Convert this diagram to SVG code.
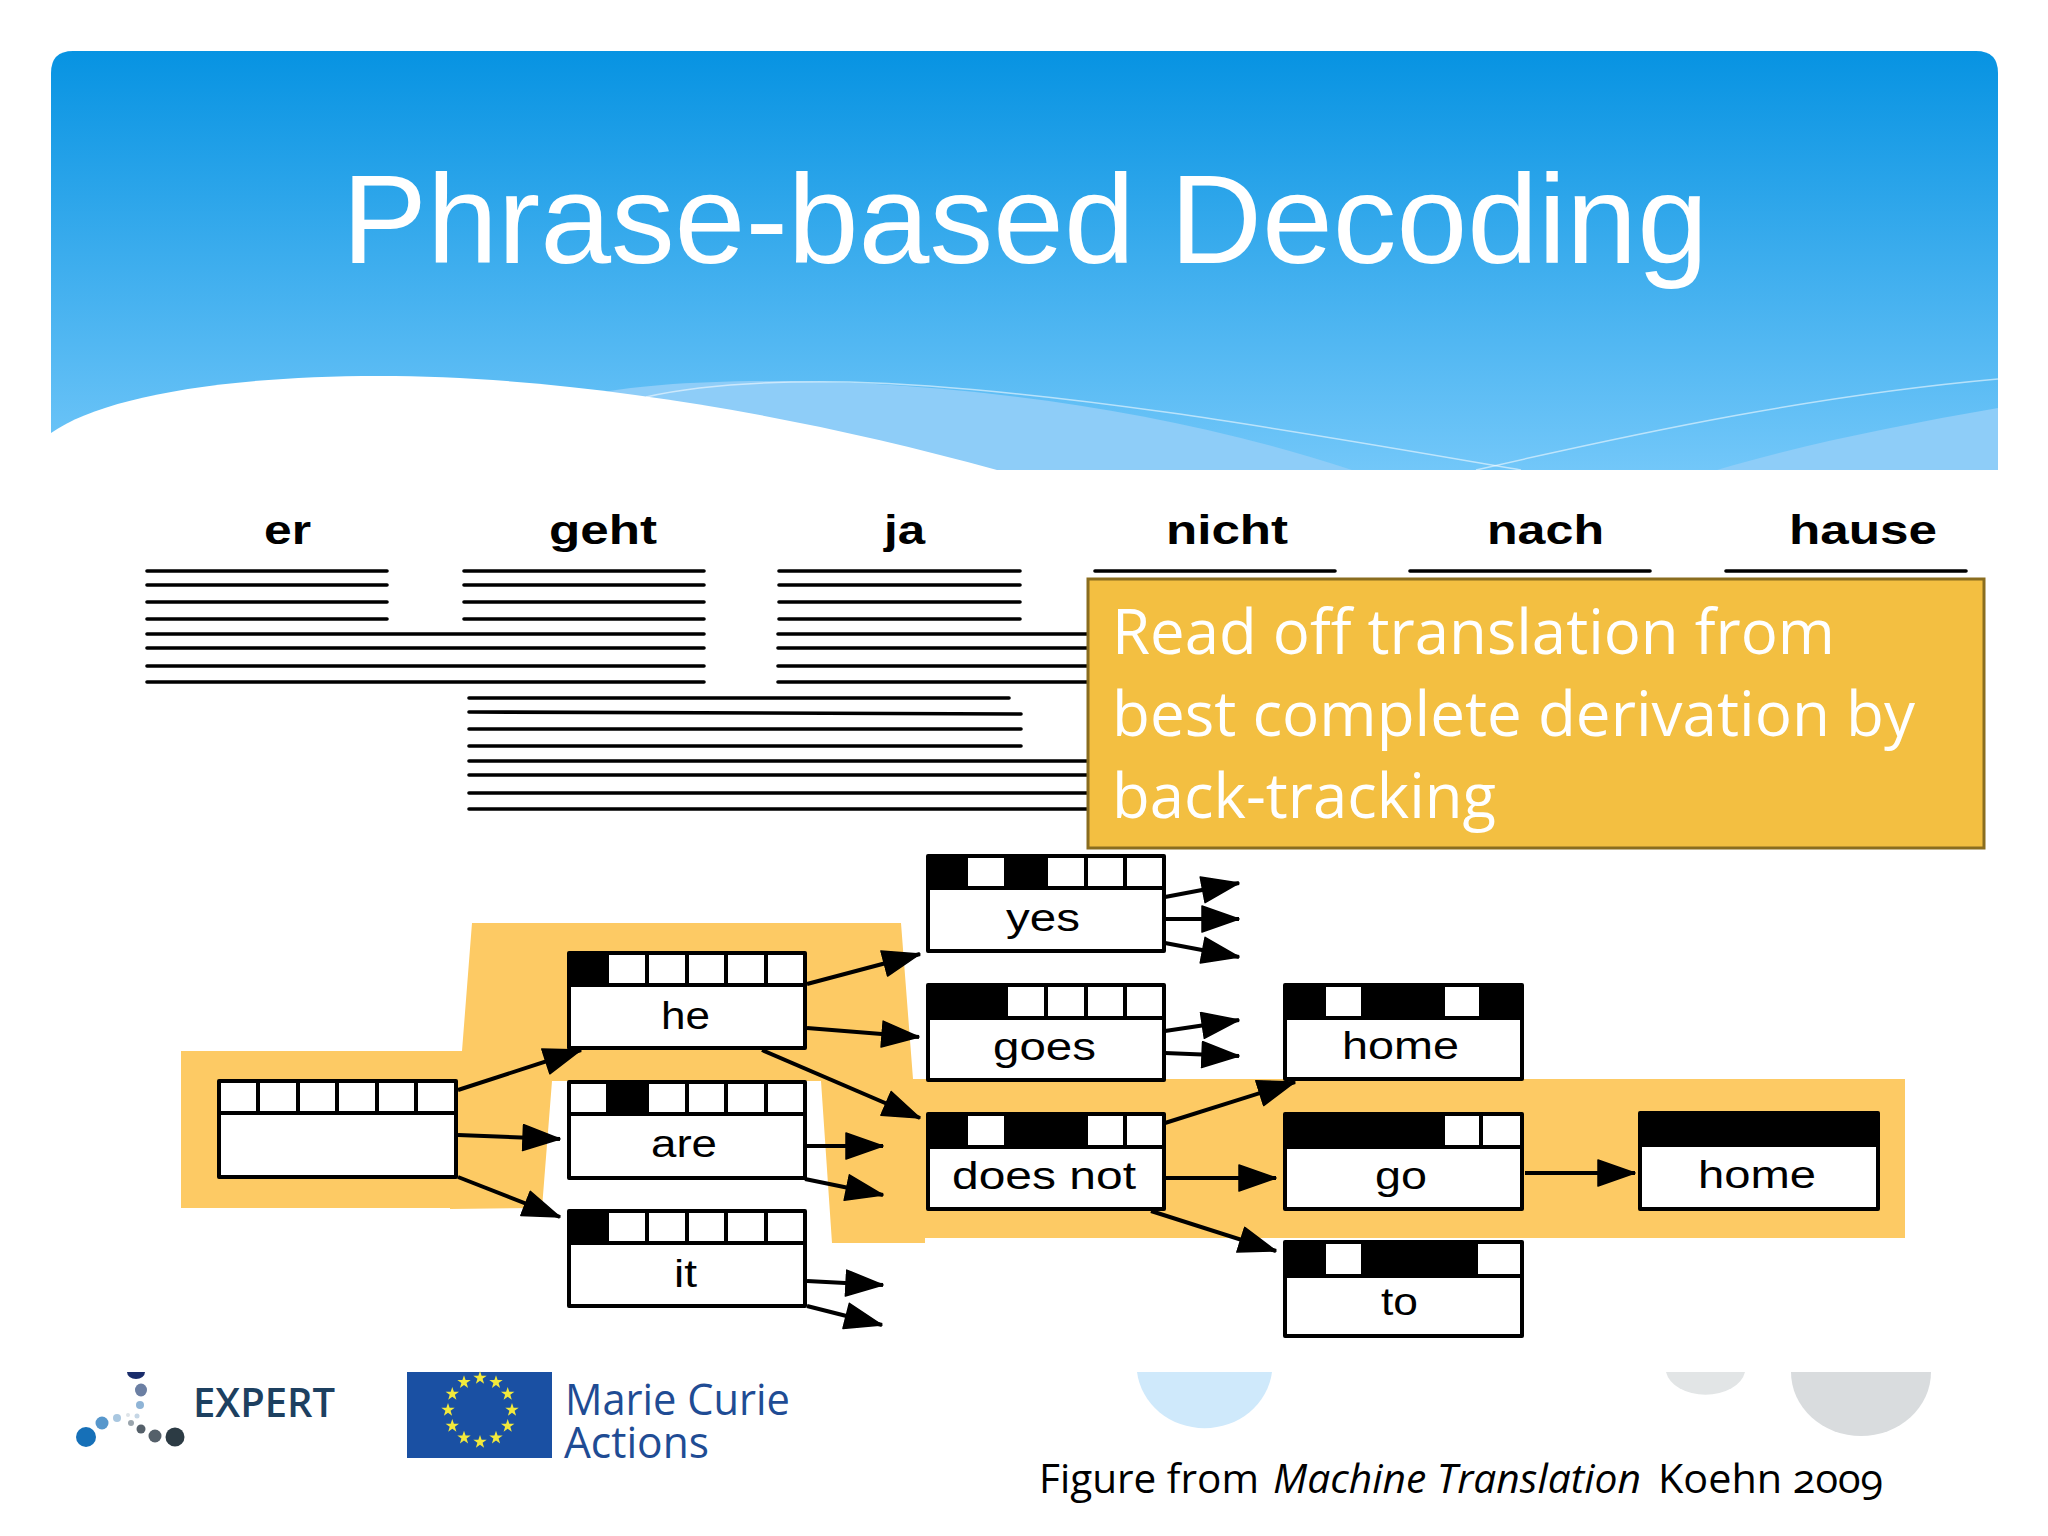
<svg xmlns="http://www.w3.org/2000/svg" xmlns:xlink="http://www.w3.org/1999/xlink" width="2048" height="1536" viewBox="0 0 2048 1536">
<style>
.w{font-family:"Liberation Sans",Arial,sans-serif;font-weight:bold;font-size:40px;fill:#000}
.l{stroke:#000;stroke-width:3.6;stroke-linecap:round;fill:none}
.box{fill:#fff;stroke:#000;stroke-width:4;stroke-linejoin:round}
.div{stroke:#000;stroke-width:4;fill:none}
.on{fill:#000}
.t{font-family:"Liberation Sans",Arial,sans-serif;font-size:38px;fill:#000}
.a{stroke:#000;stroke-width:4;fill:none;marker-end:url(#ah)}
.c{font-family:"Open Sans","Noto Sans",sans-serif;font-size:62px;fill:#fff}
.f{font-family:"Open Sans","Noto Sans",sans-serif;font-size:41px;fill:#000;font-variant-numeric:oldstyle-nums}
.mc{font-family:"Open Sans","Noto Sans",sans-serif;font-size:44px;fill:#1f4c94}
</style>
<defs>
<linearGradient id="hg" x1="0" y1="51" x2="0" y2="470" gradientUnits="userSpaceOnUse"><stop offset="0" stop-color="#0793e2"/><stop offset="1" stop-color="#72c7f9"/></linearGradient>
<marker id="ah" markerUnits="userSpaceOnUse" markerWidth="42" markerHeight="30" refX="38" refY="14" orient="auto"><path d="M1 1 L38 14 L1 27 Z" fill="#000" stroke="#000" stroke-width="1.5" stroke-linejoin="round"/></marker>
<polygon id="star" points="0,-7 1.6,-2.2 6.7,-2.2 2.6,0.8 4.1,5.7 0,2.7 -4.1,5.7 -2.6,0.8 -6.7,-2.2 -1.6,-2.2" fill="#f2e93c"/>
</defs>
<rect width="2048" height="1536" fill="#fff"/>

<g id="header">
<path d="M51 470 V73 Q51 51 73 51 H1976 Q1998 51 1998 73 V470 Z" fill="url(#hg)"/>
<path d="M590 395 C700 370 1050 370 1352 470 H900 Z" fill="#8ecdf8"/>
<path d="M1717 470 C1800 445 1900 425 1998 408 V470 Z" fill="#8ecdf8"/>
<path d="M51 433 C100 398 220 376 379 376 C560 376 780 410 997 470 H51 Z" fill="#fff"/>
<path d="M646 397 Q720 380 849 382 C1050 388 1290 430 1521 470" fill="none" stroke="#fff" stroke-opacity=".55" stroke-width="1.5"/>
<path d="M1476 470 C1650 430 1820 395 1998 379" fill="none" stroke="#fff" stroke-opacity=".55" stroke-width="1.5"/>
<text x="342" y="263" font-family="'Liberation Sans',Arial,sans-serif" font-size="127" fill="#fff" textLength="1366" lengthAdjust="spacingAndGlyphs">Phrase-based Decoding</text>
</g>

<g id="source-words">
<text class="w" x="264" y="544" textLength="47" lengthAdjust="spacingAndGlyphs">er</text>
<text class="w" x="549" y="544" textLength="108" lengthAdjust="spacingAndGlyphs">geht</text>
<text class="w" x="884" y="544" textLength="41" lengthAdjust="spacingAndGlyphs">ja</text>
<text class="w" x="1166" y="544" textLength="122" lengthAdjust="spacingAndGlyphs">nicht</text>
<text class="w" x="1487" y="544" textLength="117" lengthAdjust="spacingAndGlyphs">nach</text>
<text class="w" x="1789" y="544" textLength="148" lengthAdjust="spacingAndGlyphs">hause</text>
</g>

<g id="options">
<path class="l" d="M147 571H387M147 585H387M147 602H387M147 619H387M147 634H704M147 648H704M147 666H704M147 682H704"/>
<path class="l" d="M464 571H704M464 585H704M464 602H704M464 619H704"/>
<path class="l" d="M779 571H1020M779 585H1020M779 602H1020M779 619H1020M778 634H1090M778 648H1090M778 666H1090M778 682H1090"/>
<path class="l" d="M469 698H1009M469 712L1021 714M469 729H1021M469 746H1021M469 761H1090M469 775H1090M469 793H1090M469 809H1090"/>
<path class="l" d="M1095 571H1335M1410 571H1650M1726 571H1966"/>
</g>

<g id="callout">
<rect x="1088" y="579" width="896" height="269" fill="#f3bf41" stroke="#8a6d1f" stroke-width="3"/>
<text class="c" x="1112" y="654" textLength="723" lengthAdjust="spacingAndGlyphs">Read off translation from</text>
<text class="c" x="1112" y="736" textLength="803" lengthAdjust="spacingAndGlyphs">best complete derivation by</text>
<text class="c" x="1112" y="818" textLength="384" lengthAdjust="spacingAndGlyphs">back-tracking</text>
</g>

<g id="highlight">
<polygon fill="#fdca64" points="181,1051 462,1051 472,923 901,923 913,1079 1905,1079 1905,1238 925,1238 925,1243 832,1243 821,1081 552,1081 542,1208 450,1209 450,1208 181,1208"/>
</g>

<g id="connectors">
<path class="a" d="M458 1090L581 1050"/>
<path class="a" d="M458 1135L560 1139"/>
<path class="a" d="M458 1177L560 1217"/>
<path class="a" d="M807 984L920 954"/>
<path class="a" d="M807 1028L919 1037"/>
<path class="a" d="M762 1050L920 1118"/>
<path class="a" d="M807 1146L883 1146"/>
<path class="a" d="M805 1179L883 1195"/>
<path class="a" d="M807 1281L883 1285"/>
<path class="a" d="M807 1306L882 1325"/>
<path class="a" d="M1165 897L1239 883"/>
<path class="a" d="M1165 919L1239 919"/>
<path class="a" d="M1165 943L1239 957"/>
<path class="a" d="M1165 1031L1239 1020"/>
<path class="a" d="M1165 1053L1239 1056"/>
<path class="a" d="M1165 1123L1295 1082"/>
<path class="a" d="M1165 1178L1276 1178"/>
<path class="a" d="M1151 1211L1276 1251"/>
<path class="a" d="M1525 1173L1635 1173"/>
</g>

<g id="node-root">
<rect class="box" x="219" y="1081" width="237" height="96"/>
<path class="div" d="M219 1113H456M258 1081V1113M298 1081V1113M337 1081V1113M377 1081V1113M416 1081V1113"/>
</g>
<g id="node-he">
<rect class="box" x="569" y="953" width="236" height="95"/>
<rect class="on" x="569" y="953" width="40" height="32"/>
<path class="div" d="M569 985H805M647 953V985M687 953V985M726 953V985M766 953V985"/>
<text class="t" x="661" y="1029" textLength="49" lengthAdjust="spacingAndGlyphs">he</text>
</g>
<g id="node-are">
<rect class="box" x="569" y="1082" width="236" height="96"/>
<rect class="on" x="606" y="1082" width="43" height="32"/>
<path class="div" d="M569 1114H805M687 1082V1114M726 1082V1114M766 1082V1114"/>
<text class="t" x="651" y="1157" textLength="66" lengthAdjust="spacingAndGlyphs">are</text>
</g>
<g id="node-it">
<rect class="box" x="569" y="1211" width="236" height="95"/>
<rect class="on" x="569" y="1211" width="40" height="32"/>
<path class="div" d="M569 1243H805M647 1211V1243M687 1211V1243M726 1211V1243M766 1211V1243"/>
<text class="t" x="674" y="1287" textLength="23" lengthAdjust="spacingAndGlyphs">it</text>
</g>
<g id="node-yes">
<rect class="box" x="928" y="856" width="236" height="95"/>
<rect class="on" x="928" y="856" width="40" height="32"/>
<rect class="on" x="1004" y="856" width="44" height="32"/>
<path class="div" d="M928 888H1164M1086 856V888M1125 856V888"/>
<text class="t" x="1006" y="931" textLength="74" lengthAdjust="spacingAndGlyphs">yes</text>
</g>
<g id="node-goes">
<rect class="box" x="928" y="985" width="236" height="95"/>
<rect class="on" x="928" y="985" width="80" height="33"/>
<path class="div" d="M928 1018H1164M1046 985V1018M1086 985V1018M1125 985V1018"/>
<text class="t" x="993" y="1060" textLength="103" lengthAdjust="spacingAndGlyphs">goes</text>
</g>
<g id="node-does-not">
<rect class="box" x="928" y="1114" width="236" height="95"/>
<rect class="on" x="928" y="1114" width="40" height="33"/>
<rect class="on" x="1004" y="1114" width="84" height="33"/>
<path class="div" d="M928 1147H1164M1125 1114V1147"/>
<text class="t" x="952" y="1189" textLength="184" lengthAdjust="spacingAndGlyphs">does not</text>
</g>
<g id="node-home-1">
<rect class="box" x="1285" y="985" width="237" height="94"/>
<rect class="on" x="1285" y="985" width="41" height="33"/>
<rect class="on" x="1361" y="985" width="84" height="33"/>
<rect class="on" x="1479" y="985" width="43" height="33"/>
<path class="div" d="M1285 1018H1522"/>
<text class="t" x="1342" y="1059" textLength="117" lengthAdjust="spacingAndGlyphs">home</text>
</g>
<g id="node-go">
<rect class="box" x="1285" y="1114" width="237" height="95"/>
<rect class="on" x="1285" y="1114" width="160" height="33"/>
<path class="div" d="M1285 1147H1522M1481 1114V1147"/>
<text class="t" x="1375" y="1189" textLength="52" lengthAdjust="spacingAndGlyphs">go</text>
</g>
<g id="node-to">
<rect class="box" x="1285" y="1242" width="237" height="94"/>
<rect class="on" x="1285" y="1242" width="41" height="34"/>
<rect class="on" x="1361" y="1242" width="117" height="34"/>
<path class="div" d="M1285 1276H1522"/>
<text class="t" x="1381" y="1315" textLength="37" lengthAdjust="spacingAndGlyphs">to</text>
</g>
<g id="node-home-2">
<rect class="box" x="1640" y="1113" width="238" height="96"/>
<rect class="on" x="1640" y="1113" width="238" height="34"/>
<text class="t" x="1698" y="1188" textLength="118" lengthAdjust="spacingAndGlyphs">home</text>
</g>

<g id="logo-expert">
<path d="M127 1372H145A9 7 0 0 1 127 1372Z" fill="#1a2d6b"/>
<ellipse cx="141" cy="1390" rx="6" ry="6.5" fill="#6b7fa3"/>
<circle cx="140" cy="1405" r="4" fill="#8fb4d6"/>
<circle cx="137" cy="1416" r="2.5" fill="#c5d6e5"/>
<circle cx="128" cy="1415" r="2" fill="#dde3e8"/>
<circle cx="131" cy="1423" r="3" fill="#9aa5ad"/>
<circle cx="117" cy="1418" r="4" fill="#a9c7e0"/>
<circle cx="102" cy="1423" r="6.5" fill="#5797cc"/>
<circle cx="86" cy="1437" r="10" fill="#1670b8"/>
<circle cx="141" cy="1429" r="4.5" fill="#55606a"/>
<circle cx="155" cy="1436" r="6.5" fill="#55606a"/>
<circle cx="175" cy="1437" r="9.5" fill="#2c3b44"/>
<text x="193" y="1417" font-family="'Open Sans','Noto Sans',sans-serif" font-weight="600" font-size="40" fill="#1d4060" textLength="142" lengthAdjust="spacingAndGlyphs">EXPERT</text>
</g>

<g id="logo-marie-curie">
<rect x="407" y="1372" width="145" height="86" fill="#1a50a3"/>
<use xlink:href="#star" href="#star" x="480" y="1378"/>
<use xlink:href="#star" href="#star" x="496" y="1382.300"/>
<use xlink:href="#star" href="#star" x="507.700" y="1394"/>
<use xlink:href="#star" href="#star" x="512" y="1410"/>
<use xlink:href="#star" href="#star" x="507.700" y="1426"/>
<use xlink:href="#star" href="#star" x="496" y="1437.700"/>
<use xlink:href="#star" href="#star" x="480" y="1442"/>
<use xlink:href="#star" href="#star" x="464" y="1437.700"/>
<use xlink:href="#star" href="#star" x="452.300" y="1426"/>
<use xlink:href="#star" href="#star" x="448" y="1410"/>
<use xlink:href="#star" href="#star" x="452.300" y="1394"/>
<use xlink:href="#star" href="#star" x="464" y="1382.300"/>
<text class="mc" x="565" y="1415" textLength="225" lengthAdjust="spacingAndGlyphs">Marie Curie</text>
<text class="mc" x="564" y="1458" textLength="145" lengthAdjust="spacingAndGlyphs">Actions</text>
</g>

<g id="decor">
<path d="M1137 1372H1272A68 64 0 0 1 1137 1372Z" fill="#cfe9fb"/>
<path d="M1666 1372H1745A40 27 0 0 1 1666 1372Z" fill="#e2e5e6"/>
<path d="M1791 1372H1931A70 64 0 0 1 1791 1372Z" fill="#d9dcde"/>
</g>

<g id="credit">
<text class="f" x="1039" y="1493" textLength="220" lengthAdjust="spacingAndGlyphs">Figure from</text>
<text class="f" x="1273" y="1493" textLength="368" lengthAdjust="spacingAndGlyphs" font-style="italic">Machine Translation</text>
<text class="f" x="1658" y="1493" textLength="225" lengthAdjust="spacingAndGlyphs">Koehn 2009</text>
</g>
</svg>
